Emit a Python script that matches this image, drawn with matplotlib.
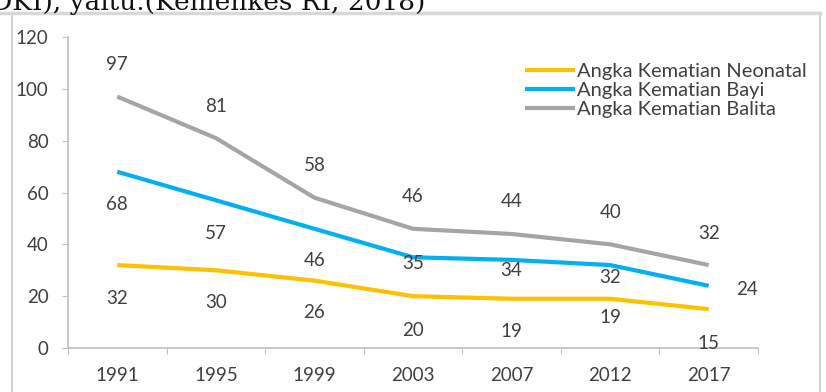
import matplotlib.pyplot as plt
from matplotlib.patches import Rectangle
from matplotlib.lines import Line2D

plt.rcParams['font.family'] = ['Lato', 'DejaVu Sans']

# data
years = ["1991", "1995", "1999", "2003", "2007", "2012", "2017"]
neonatal = [32, 30, 26, 20, 19, 19, 15]
bayi = [68, 57, 46, 35, 34, 32, 24]
balita = [97, 81, 58, 46, 44, 40, 32]
names = ["Angka Kematian Neonatal", "Angka Kematian Bayi", "Angka Kematian Balita"]
colors = ["#FFC000", "#00B0F0", "#A5A5A5"]

# label offsets in pixels (x, y), as placed in the original
off_neo = [(0, -33), (0, -32), (0, -32), (0, -34), (0, -33), (0, -19), (0, -34)]
off_bayi = [(0, -33), (0, -33), (0, -32), (0, -6), (0, -11), (0, -12), (38, -4)]
off_bal = [(0, 32)] * 7

W, H = 826, 392
fig = plt.figure(figsize=(W / 100, H / 100), dpi=100)

# cut-off text from the page above the chart
fig.text(425 / W, 1 - 10 / H, "SDKI), yaitu.(Kemenkes RI, 2018)", ha="right", va="baseline",
         fontsize=19, family="DejaVu Serif", color="#111111")

# frame around the pasted chart
fig.patches.append(Rectangle((12 / W, -0.05), (820 - 12) / W, 1.05 - 13 / H,
                             transform=fig.transFigure, fill=False, ec="#c8c8c8", lw=1.2))
fig.add_artist(Line2D([0, 820 / W], [1 - 13 / H, 1 - 13 / H], transform=fig.transFigure,
                      color="#d8d8d8", lw=2.5))

ax = fig.add_axes([68 / W, 1 - 348 / H, (758 - 68) / W, (348 - 37) / H])
x = list(range(len(years)))
for vals, c, n in zip([neonatal, bayi, balita], colors, names):
    ax.plot(x, vals, color=c, lw=3, label=n, solid_capstyle="butt")

for vals, offs in zip([neonatal, bayi, balita], [off_neo, off_bayi, off_bal]):
    for xi, v, o in zip(x, vals, offs):
        ax.annotate(str(v), (xi, v), xytext=o, textcoords="offset pixels",
                    ha="center", va="center", fontsize=13.5, color="#404040")

ax.set_xlim(-0.5, len(years) - 0.5)
ax.set_ylim(0, 120)
ax.set_yticks(range(0, 121, 20))
ax.set_xticks([i - 0.5 for i in range(len(years) + 1)])
ax.set_xticklabels([])
ax.set_xticks(x, minor=True)
ax.set_xticklabels(years, minor=True)
ax.tick_params(axis="x", which="major", length=4, color="#bfbfbf")
ax.tick_params(axis="x", which="minor", length=0, pad=14, labelsize=13.5, labelcolor="#404040")
ax.tick_params(axis="y", length=4, color="#bfbfbf", pad=10, labelsize=13.5, labelcolor="#404040")
for s in ["top", "right"]:
    ax.spines[s].set_visible(False)
for s in ["left", "bottom"]:
    ax.spines[s].set_color("#bfbfbf")
    ax.spines[s].set_linewidth(1.2)

ax.legend(loc="upper left", bbox_to_anchor=(515 / W, 1 - 53 / H), bbox_transform=fig.transFigure,
          frameon=False, fontsize=14.5, handlelength=2.5, handletextpad=0.1,
          labelspacing=0.1, borderpad=0, labelcolor="#404040")

fig.savefig("out.png", dpi=100)
